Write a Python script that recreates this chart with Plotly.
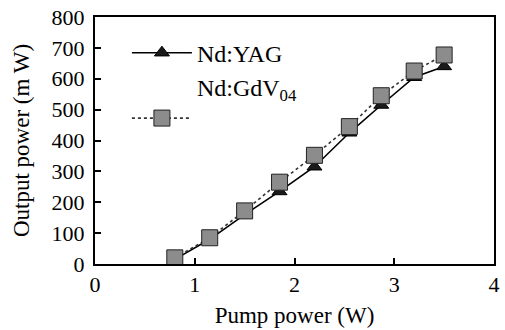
import plotly.graph_objects as go

pump = [0.8, 1.15, 1.5, 1.85, 2.2, 2.55, 2.87, 3.2, 3.5]
yag = [15, 80, 160, 235, 315, 425, 515, 605, 640]
gdvo4 = [20, 85, 172, 265, 352, 445, 545, 625, 677]

x_ticks = [0, 1, 2, 3, 4]
y_ticks = [0, 100, 200, 300, 400, 500, 600, 700, 800]

font = "Liberation Serif"

fig = go.Figure()
fig.add_trace(go.Scatter(
    x=pump, y=yag, mode="lines+markers", name="Nd:YAG",
    line=dict(color="black", width=1.6),
    marker=dict(symbol="triangle-up", size=13, color="#1a1a1a",
                line=dict(color="black", width=1)),
))
fig.add_trace(go.Scatter(
    x=pump, y=gdvo4, mode="lines+markers", name="Nd:GdV<sub>04</sub><br>&nbsp;",
    line=dict(color="#333", width=1.6, dash="dot"),
    marker=dict(symbol="square", size=16, color="#8c8c8c",
                line=dict(color="#222", width=1)),
))

axis_common = dict(
    showline=True, linecolor="black", linewidth=2, mirror=True,
    ticks="inside", ticklen=6, tickwidth=2, tickcolor="black",
    showgrid=False, zeroline=False, ticklabeloverflow="allow",
    tickfont=dict(family=font, size=22, color="black"),
)

fig.update_layout(
    width=505, height=330,
    margin=dict(l=95, r=5, t=13, b=66),
    paper_bgcolor="white", plot_bgcolor="white",
    font=dict(family=font, color="black"),
    xaxis=dict(range=[0, 4], tickvals=x_ticks,
               title=dict(text="Pump power (W)", font=dict(family=font, size=23), standoff=10),
               **axis_common),
    yaxis=dict(range=[0, 800], tickvals=y_ticks, ticklabelstandoff=4,
               title=dict(text="Output power (m W)", font=dict(family=font, size=23), standoff=16),
               **axis_common),
    legend=dict(x=0.08, y=0.945, xanchor="left", yanchor="top",
                bgcolor="rgba(0,0,0,0)", font=dict(family=font, size=24),
                itemwidth=60, valign="bottom", tracegroupgap=0),
    showlegend=True,
)

fig.write_html(
    "out.html",
    config={"displayModeBar": False},
    post_script="document.body.style.margin='0';document.body.style.overflow='hidden';",
)
